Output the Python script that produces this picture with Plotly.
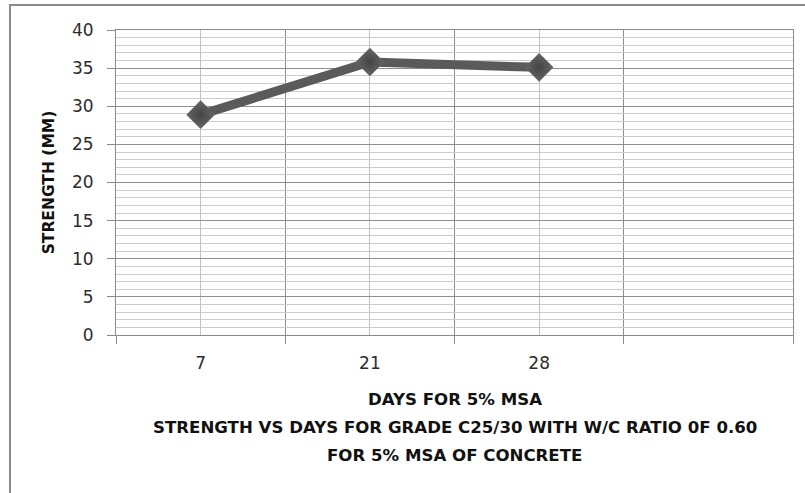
import plotly.graph_objects as go

# Compressive strength readings at each curing age
days = ["7", "21", "28"]
strength = [28.9, 35.8, 35.1]
n_slots = 4  # category slots on the x axis (last one left empty)

y_ticks = [0, 5, 10, 15, 20, 25, 30, 35, 40]

x_title = "DAYS FOR 5% MSA"
caption_lines = [
    "STRENGTH VS DAYS FOR GRADE C25/30 WITH W/C RATIO 0F 0.60",
    "FOR 5% MSA OF CONCRETE",
]
y_title = "STRENGTH (MM)"

FONT = "DejaVu Sans"
x_pos = list(range(len(days)))

fig = go.Figure()
fig.add_trace(
    go.Scatter(
        x=x_pos,
        y=strength,
        mode="lines+markers",
        line=dict(color="#5a5a5a", width=9),
        marker=dict(
            symbol="diamond",
            size=22,
            color="#666666",
            gradient=dict(type="radial", color="#444444"),
            line=dict(width=0),
        ),
        showlegend=False,
        hoverinfo="x+y",
    )
)

boundaries = [i - 0.5 for i in range(n_slots + 1)]

fig.update_xaxes(
    range=[-0.5, n_slots - 0.5],
    tickmode="array",
    tickvals=x_pos,
    ticktext=days,
    ticks="",
    showgrid=True,
    gridcolor="#c4c4c4",
    gridwidth=1,
    minor=dict(
        tickmode="array",
        tickvals=boundaries,
        ticks="outside",
        ticklen=8,
        tickcolor="#8a8a8a",
        showgrid=True,
        gridcolor="#8f8f8f",
        gridwidth=1,
    ),
    showline=True,
    linecolor="#8a8a8a",
    linewidth=1,
    mirror=True,
    zeroline=False,
    tickfont=dict(family=FONT, size=17, color="#2b2b2b"),
    ticklabelstandoff=13,
)

fig.update_yaxes(
    range=[0, 40],
    tickmode="array",
    tickvals=y_ticks,
    ticks="outside",
    ticklen=8,
    tickcolor="#8a8a8a",
    showgrid=True,
    gridcolor="#8f8f8f",
    gridwidth=1,
    minor=dict(dtick=1, showgrid=True, gridcolor="#cccccc", gridwidth=1, ticks=""),
    showline=True,
    linecolor="#8a8a8a",
    linewidth=1,
    mirror=True,
    zeroline=False,
    tickfont=dict(family=FONT, size=17, color="#2b2b2b"),
    ticklabelstandoff=10,
    title=dict(
        text="<b>" + y_title + "</b>",
        font=dict(family=FONT, size=15.5, color="#111111"),
        standoff=13,
    ),
)

# x-axis title and caption stacked under the plot
text_rows = [x_title] + caption_lines
row_y = [-0.213, -0.302, -0.394]
for txt, yy in zip(text_rows, row_y):
    fig.add_annotation(
        text="<b>" + txt + "</b>",
        xref="paper",
        yref="paper",
        x=0.5,
        y=yy,
        xanchor="center",
        yanchor="middle",
        showarrow=False,
        font=dict(family=FONT, size=16.6, color="#111111"),
    )

# chart area frame
fig.add_shape(
    type="rect",
    xref="paper",
    yref="paper",
    x0=-0.1566,
    x1=1.03,
    y0=-0.55,
    y1=1.082,
    line=dict(color="#8a8a8a", width=2),
    fillcolor="rgba(0,0,0,0)",
    layer="below",
)

fig.update_layout(
    width=805,
    height=493,
    margin=dict(l=116, r=12, t=30, b=158),
    paper_bgcolor="white",
    plot_bgcolor="white",
    font=dict(family=FONT),
)

fig.write_html("out.html")
